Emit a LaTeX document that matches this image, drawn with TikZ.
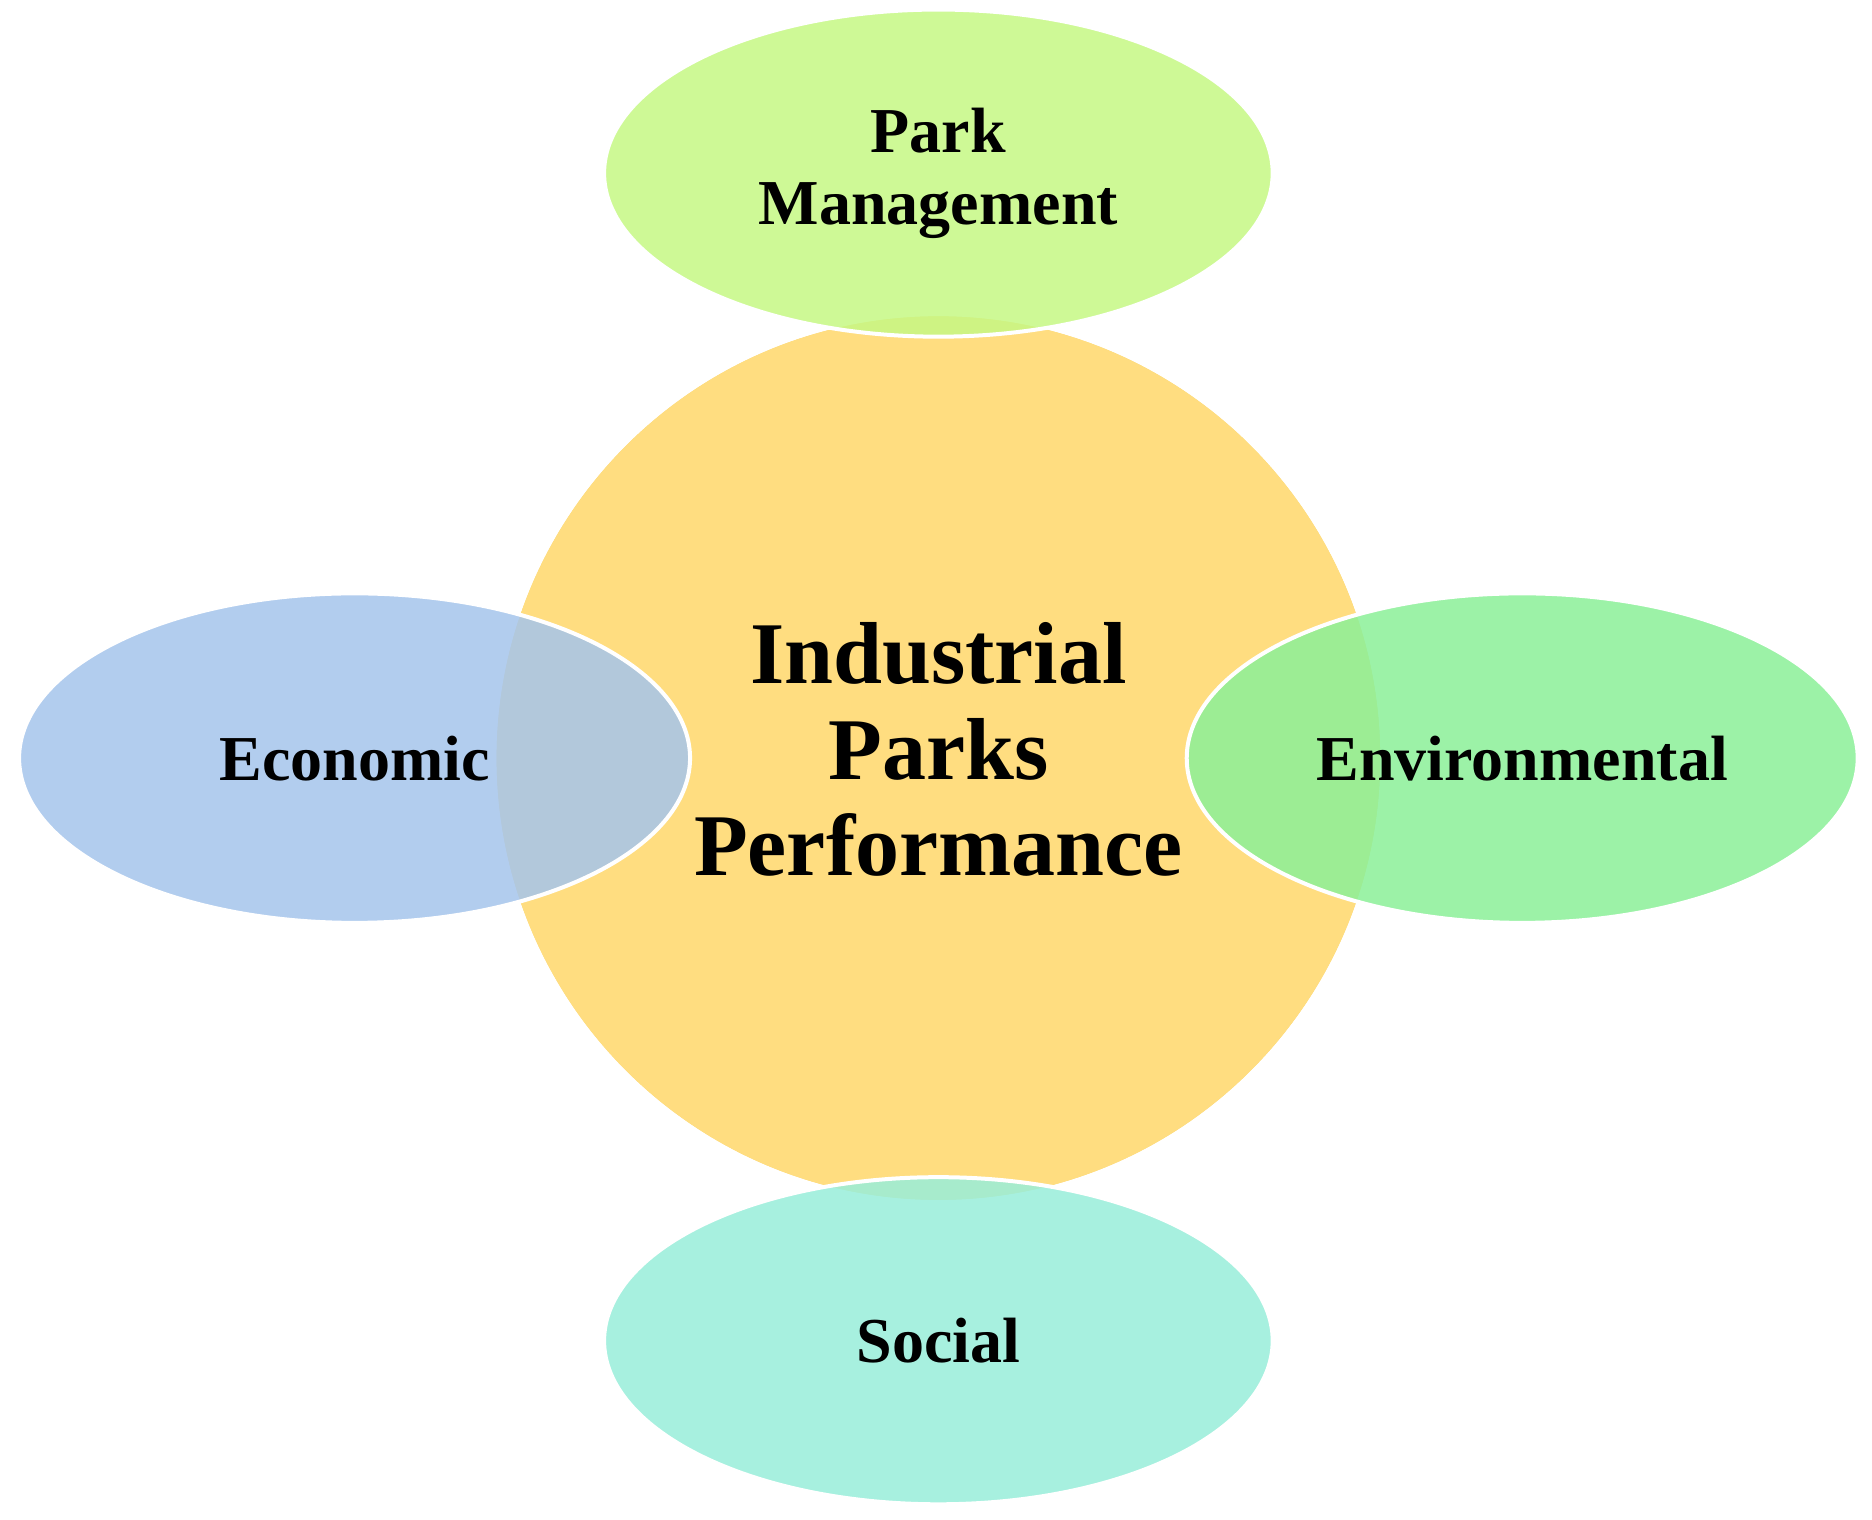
\documentclass[tikz,border=0pt]{standalone}
\usepackage{fontspec}
\setmainfont{Liberation Serif}
\begin{document}
\begin{tikzpicture}[x=1.194pt,y=-1.194pt,
  sat/.style={draw=white,line width=4pt,fill opacity=0.85},
  lab/.style={font=\fontsize{64}{72}\selectfont\bfseries,align=center,text=black}]
\useasboundingbox (0,0) rectangle (1568,1273);
\fill[white] (0,0) rectangle (1568,1273);
\fill[fill=white] (786,145) ellipse [x radius=280,y radius=137];
\node[circle,minimum size=740*1.194pt,fill=yellow!50!orange!55!white,inner sep=0] (core) at (786,635) {};
\definecolor{cTop}{HTML}{C6F884}
\definecolor{cLeft}{HTML}{A5C5EC}
\definecolor{cRight}{HTML}{8BF098}
\definecolor{cBot}{HTML}{98EEDA}
\definecolor{cCore}{HTML}{FFDD80}
\fill[cCore] (786,635) circle[radius=370];
\path[sat,fill=cTop] (786,145) ellipse [x radius=280,y radius=137];
\path[sat,fill=cBot] (786,1123) ellipse [x radius=280,y radius=137];
\path[sat,fill=cLeft] (297,635) ellipse [x radius=281,y radius=138];
\path[sat,fill=cRight] (1275,635) ellipse [x radius=281,y radius=138];
\node[lab] (top) at (786,145) {Park\\Management};
\node[lab] (bot) at (786,1123) {Social};
\node[lab] (left) at (297,635) {Economic};
\node[lab] (right) at (1275,635) {Environmental};
\node[lab,font=\fontsize{88}{96}\selectfont\bfseries] (center) at (786,628) {Industrial\\Parks\\Performance};
\end{tikzpicture}
\end{document}
